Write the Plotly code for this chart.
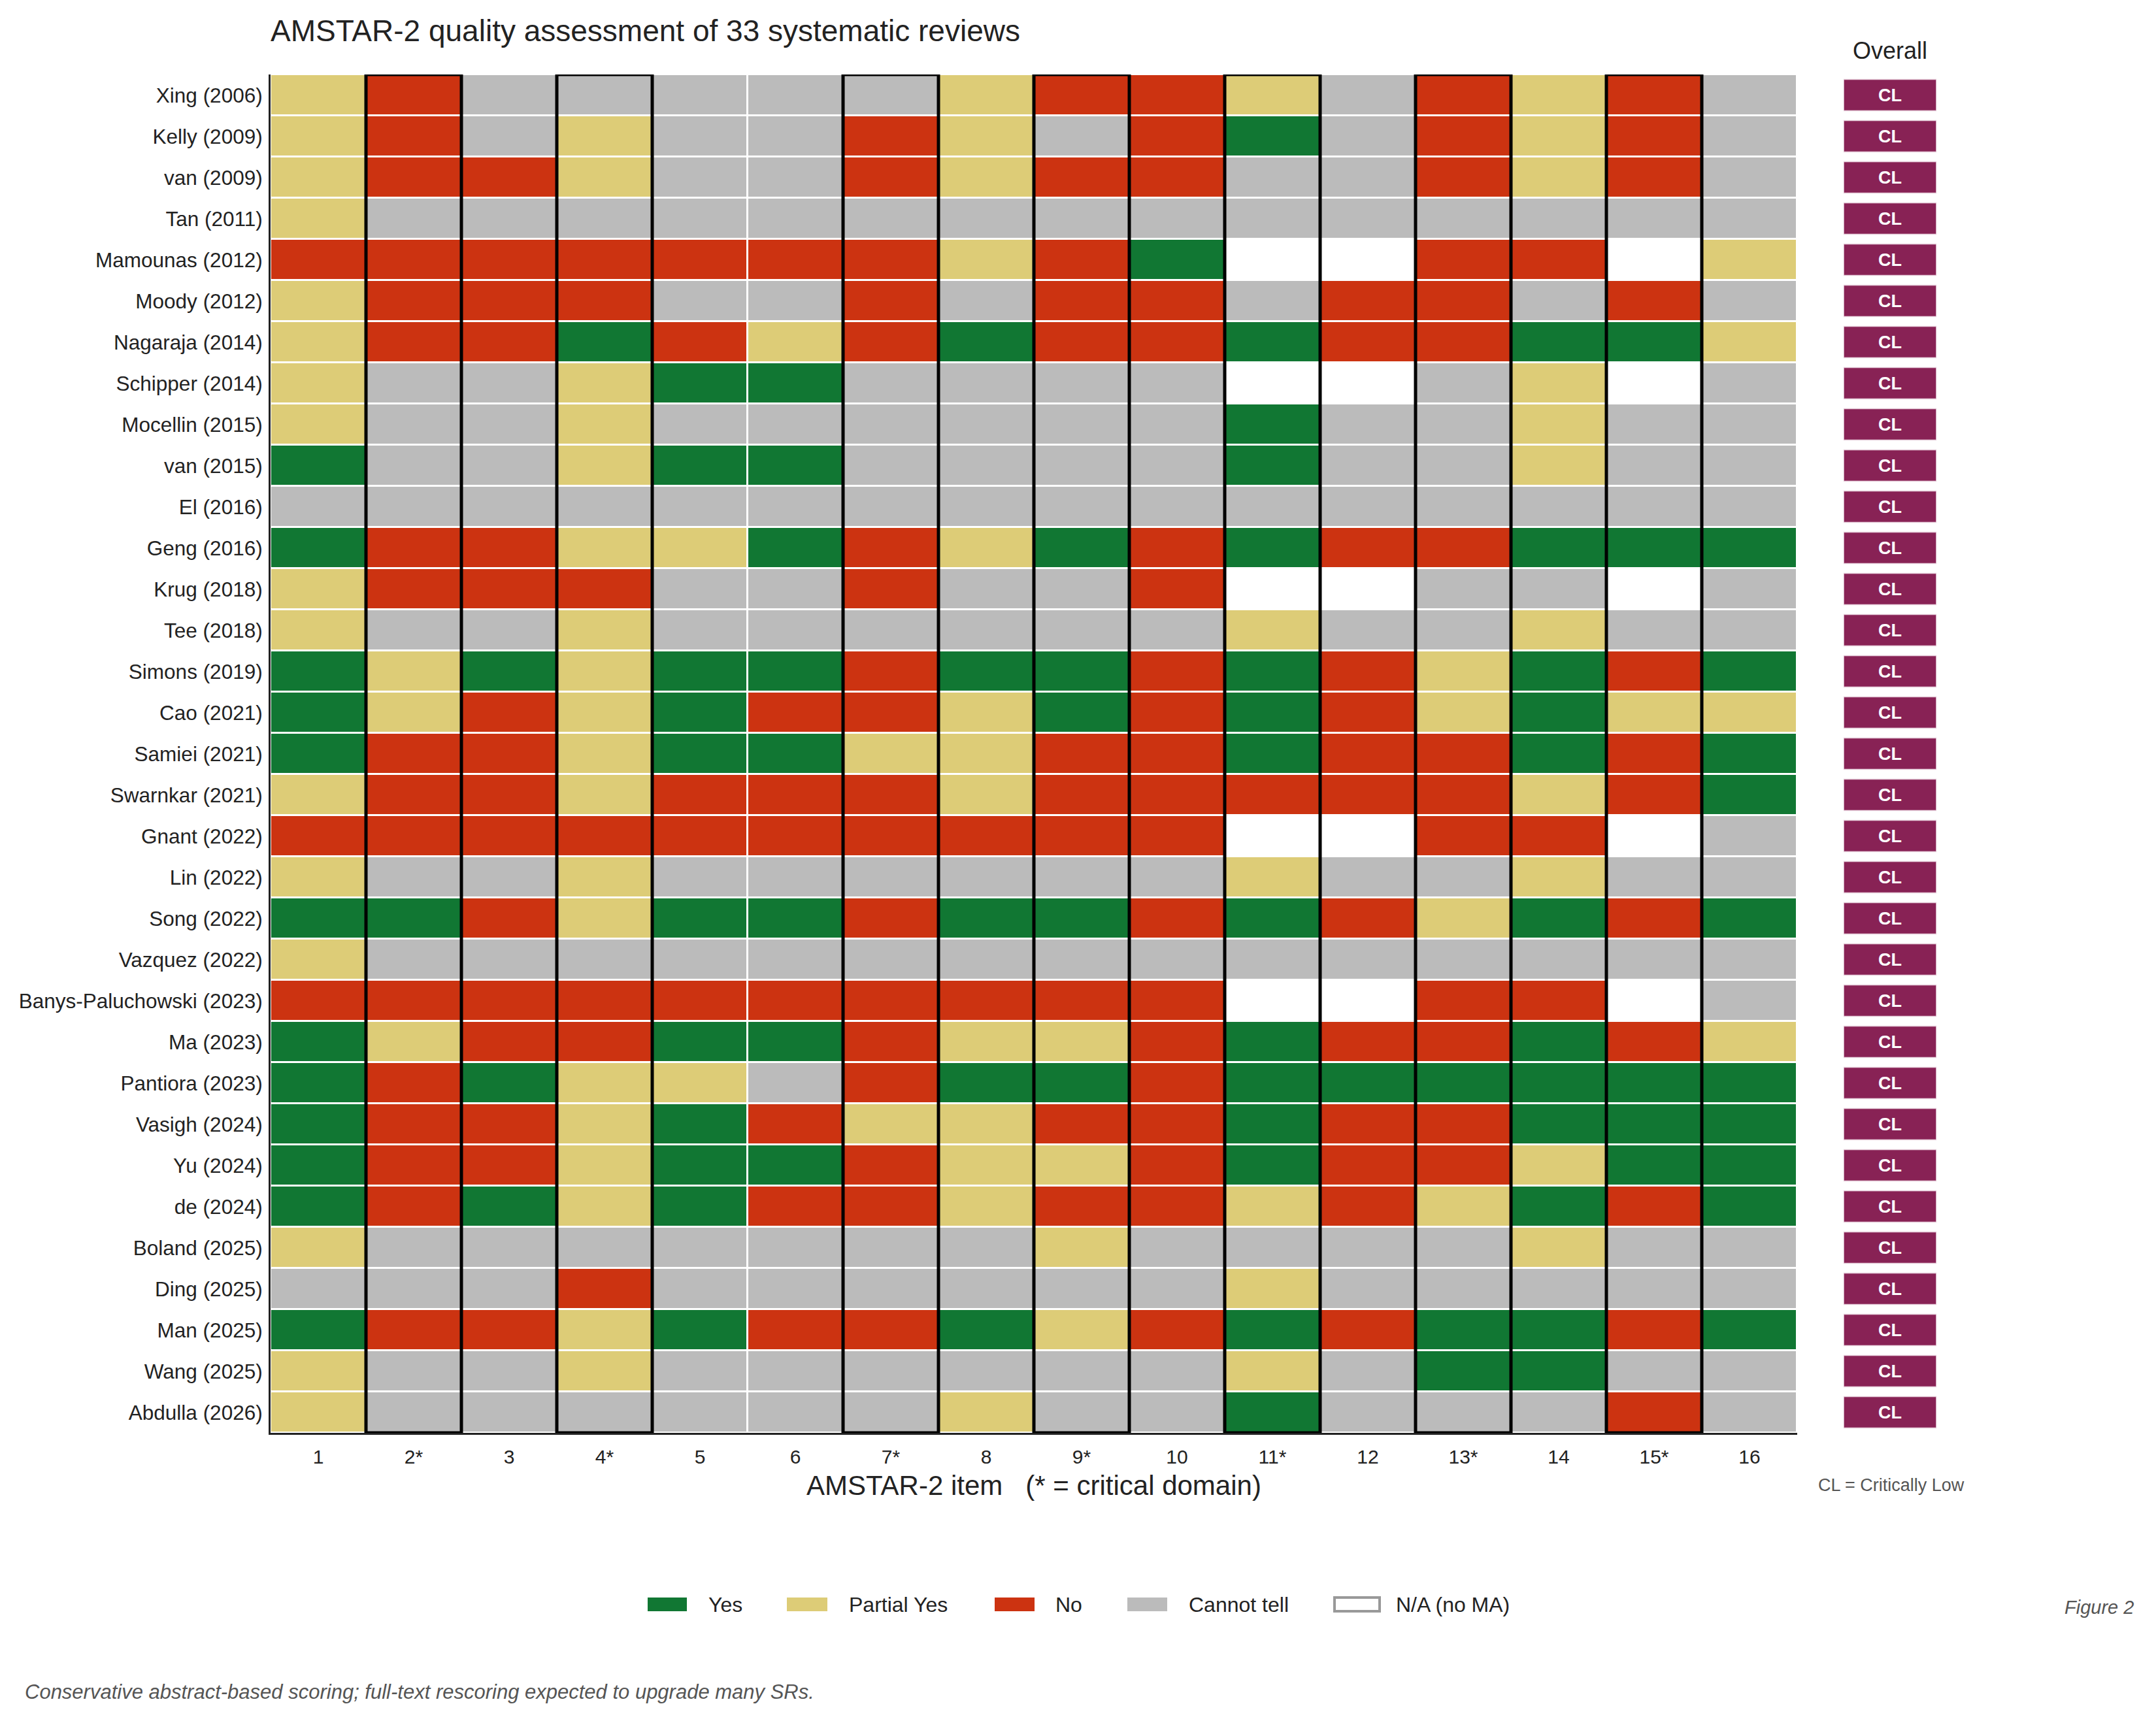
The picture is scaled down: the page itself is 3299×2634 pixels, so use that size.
import plotly.graph_objects as go

# ---------------- data ----------------
studies = ["Xing (2006)", "Kelly (2009)", "van (2009)", "Tan (2011)", "Mamounas (2012)",
           "Moody (2012)", "Nagaraja (2014)", "Schipper (2014)", "Mocellin (2015)", "van (2015)",
           "El (2016)", "Geng (2016)", "Krug (2018)", "Tee (2018)", "Simons (2019)", "Cao (2021)",
           "Samiei (2021)", "Swarnkar (2021)", "Gnant (2022)", "Lin (2022)", "Song (2022)",
           "Vazquez (2022)", "Banys-Paluchowski (2023)", "Ma (2023)", "Pantiora (2023)",
           "Vasigh (2024)", "Yu (2024)", "de (2024)", "Boland (2025)", "Ding (2025)",
           "Man (2025)", "Wang (2025)", "Abdulla (2026)"]

items = ["1", "2*", "3", "4*", "5", "6", "7*", "8", "9*", "10", "11*", "12", "13*", "14", "15*", "16"]

# Y = Yes, P = Partial Yes, N = No, C = Cannot tell, - = N/A (no MA)
ratings = [
    "PNCCCCCPNNPCNPNC",  # Xing
    "PNCPCCNPCNYCNPNC",  # Kelly
    "PNNPCCNPNNCCNPNC",  # van 2009
    "PCCCCCCCCCCCCCCC",  # Tan
    "NNNNNNNPNY--NN-P",  # Mamounas
    "PNNNCCNCNNCNNCNC",  # Moody
    "PNNYNPNYNNYNNYYP",  # Nagaraja
    "PCCPYYCCCC--CP-C",  # Schipper
    "PCCPCCCCCCYCCPCC",  # Mocellin
    "YCCPYYCCCCYCCPCC",  # van 2015
    "CCCCCCCCCCCCCCCC",  # El
    "YNNPPYNPYNYNNYYY",  # Geng
    "PNNNCCNCCN--CC-C",  # Krug
    "PCCPCCCCCCPCCPCC",  # Tee
    "YPYPYYNYYNYNPYNY",  # Simons
    "YPNPYNNPYNYNPYPP",  # Cao
    "YNNPYYPPNNYNNYNY",  # Samiei
    "PNNPNNNPNNNNNPNY",  # Swarnkar
    "NNNNNNNNNN--NN-C",  # Gnant
    "PCCPCCCCCCPCCPCC",  # Lin
    "YYNPYYNYYNYNPYNY",  # Song
    "PCCCCCCCCCCCCCCC",  # Vazquez
    "NNNNNNNNNN--NN-C",  # Banys-Paluchowski
    "YPNNYYNPPNYNNYNP",  # Ma
    "YNYPPCNYYNYYYYYY",  # Pantiora
    "YNNPYNPPNNYNNYYY",  # Vasigh
    "YNNPYYNPPNYNNPYY",  # Yu
    "YNYPYNNPNNPNPYNY",  # de
    "PCCCCCCCPCCCCPCC",  # Boland
    "CCCNCCCCCCPCCCCC",  # Ding
    "YNNPYNNYPNYNYYNY",  # Man
    "PCCPCCCCCCPCYYCC",  # Wang
    "PCCCCCCPCCYCCCNC",  # Abdulla
]

overall = ["CL"] * len(studies)

codes = ["Y", "P", "N", "C", "-"]
labels = ["Yes", "Partial Yes", "No", "Cannot tell", "N/A (no MA)"]
colors = ["#117733", "#DDCC77", "#CC3311", "#BBBBBB", "#FFFFFF"]
overall_color = "#882255"

FONT = "Liberation Sans, Arial, Helvetica, sans-serif"
TXT = "#222222"

# ---------------- geometry helpers (layout only) ----------------
FW, FH = 3299, 2634
ML, MR, MT, MB = 414, 249, 114, 441
PW, PH = FW - ML - MR, FH - MT - MB


def px(xp):
    return (xp - ML) / PW


def py(yp):
    return (FH - MB - yp) / PH


heat_right = px(2750)

# ---------------- figure ----------------
z = [[codes.index(ch) for ch in row] for row in ratings]
n = len(codes)
cs = []
for i, c in enumerate(colors):
    cs.append([i / n, c])
    cs.append([(i + 1) / n, c])

xs = list(range(1, len(items) + 1))
ys = list(range(len(studies)))

fig = go.Figure()
fig.add_trace(go.Heatmap(
    z=z, x=xs, y=ys, colorscale=cs, zmin=-0.5, zmax=n - 0.5,
    showscale=False, xgap=3, ygap=3, hoverinfo="skip",
))

fig.add_trace(go.Bar(
    x=[1] * len(overall), y=ys, base=0, orientation="h", width=0.76,
    xaxis="x2", yaxis="y",
    marker=dict(color=overall_color, line=dict(color="#e6cfdb", width=1.5)),
    text=overall, texttemplate="<b>%{text}</b>", textposition="inside",
    insidetextanchor="middle", textangle=0,
    textfont=dict(family=FONT, size=27, color="white"),
    hoverinfo="skip", showlegend=False,
))

# critical-domain outlines
shapes = []
for i, it in enumerate(items):
    if "*" in it:
        shapes.append(dict(type="rect", xref="x", yref="y",
                           x0=xs[i] - 0.5, x1=xs[i] + 0.5, y0=-0.5, y1=len(studies) - 0.5,
                           line=dict(color="black", width=5), fillcolor="rgba(0,0,0,0)",
                           layer="above"))

# manual legend
annotations = []
leg_pos = [(991, 1051, 1082), (1204, 1266, 1297), (1522, 1583, 1613),
           (1725, 1786, 1817), (2042, 2111, 2134)]
leg_y0, leg_y1, leg_yc = 2445, 2466, 2456
for (sx0, sx1, tx), lab, col in zip(leg_pos, labels, colors):
    is_na = col.upper() == "#FFFFFF"
    shapes.append(dict(type="rect", xref="paper", yref="paper",
                       x0=px(sx0), x1=px(sx1), y0=py(leg_y1), y1=py(leg_y0),
                       fillcolor=col,
                       line=dict(color="#999999" if is_na else col, width=4 if is_na else 0)))
    annotations.append(dict(xref="paper", yref="paper", x=px(tx), y=py(leg_yc),
                            xanchor="left", yanchor="middle", showarrow=False, text=lab,
                            font=dict(family=FONT, size=32, color=TXT)))

annotations += [
    dict(xref="paper", yref="paper", x=heat_right / 2, y=py(2273), xanchor="center",
         yanchor="middle", showarrow=False,
         text="AMSTAR-2 item\u00a0\u00a0\u00a0(* = critical domain)",
         font=dict(family=FONT, size=42, color=TXT)),
    dict(xref="paper", yref="paper", x=px(2892), y=py(77), xanchor="center",
         yanchor="middle", showarrow=False, text="Overall",
         font=dict(family=FONT, size=36, color=TXT)),
    dict(xref="paper", yref="paper", x=px(2780), y=py(2273), xanchor="left",
         yanchor="middle", showarrow=False, text="CL = Critically Low",
         font=dict(family=FONT, size=27, color="#555555")),
    dict(xref="paper", yref="paper", x=px(3267), y=py(2460), xanchor="right",
         yanchor="middle", showarrow=False, text="<i>Figure 2</i>",
         font=dict(family=FONT, size=29, color="#555555")),
    dict(xref="paper", yref="paper", x=px(36), y=py(2589), xanchor="left",
         yanchor="middle", showarrow=False,
         text="<i>Conservative abstract-based scoring; full-text rescoring expected to upgrade many SRs.</i>",
         font=dict(family=FONT, size=31, color="#555555")),
]

fig.update_layout(
    width=FW, height=FH,
    margin=dict(l=ML, r=MR, t=MT, b=MB, pad=0),
    paper_bgcolor="white", plot_bgcolor="white",
    showlegend=False,
    title=dict(text="AMSTAR-2 quality assessment of 33 systematic reviews",
               x=ML / FW, xanchor="left", xref="container",
               y=1 - 47 / FH, yanchor="middle", yref="container",
               font=dict(family=FONT, size=46, color=TXT)),
    xaxis=dict(domain=[0, heat_right], range=[0.5, len(items) + 0.5],
               tickmode="array", tickvals=xs, ticktext=items,
               showgrid=False, zeroline=False, showline=True, linecolor="#222222", linewidth=3,
               ticks="outside", ticklen=8, tickcolor="rgba(0,0,0,0)",
               tickfont=dict(family=FONT, size=30, color=TXT), fixedrange=True),
    xaxis2=dict(domain=[px(2821), px(2963)], range=[0, 1], anchor="y", visible=False,
                fixedrange=True),
    yaxis=dict(range=[len(studies) - 0.5, -0.5], tickmode="array", tickvals=ys,
               ticktext=studies, showgrid=False, zeroline=False, showline=True,
               linecolor="#222222", linewidth=3,
               ticks="outside", ticklen=3, tickcolor="rgba(0,0,0,0)",
               tickfont=dict(family=FONT, size=31.5, color=TXT), fixedrange=True),
    shapes=shapes,
    annotations=annotations,
    font=dict(family=FONT, color=TXT),
)

fig.write_html("out.html")
